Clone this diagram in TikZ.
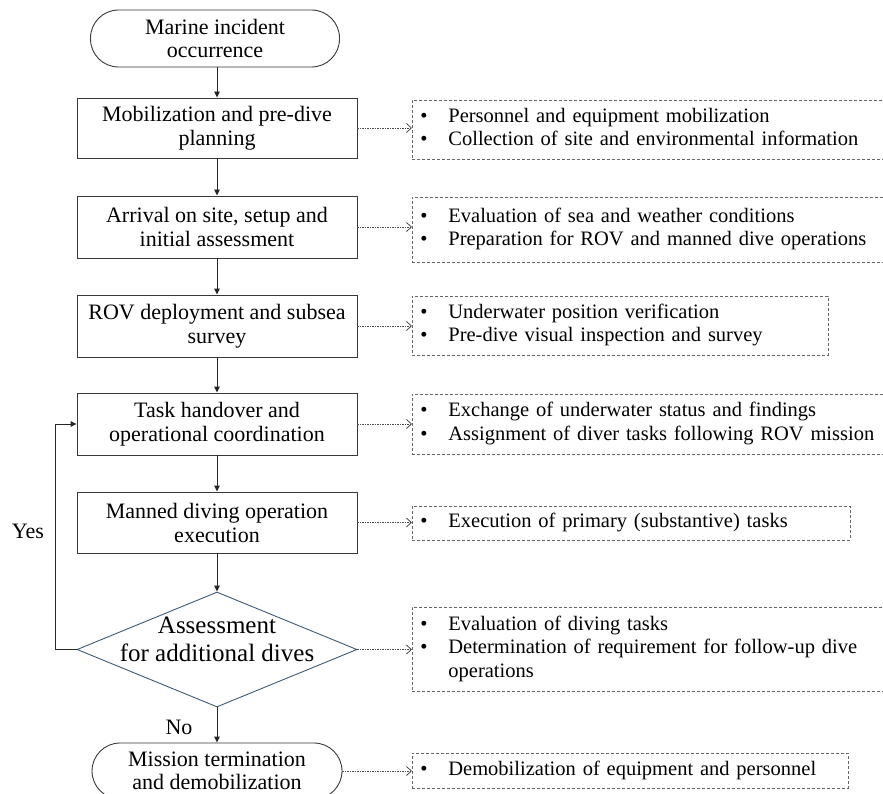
\documentclass[tikz,border=0pt]{standalone}
\usepackage{fontspec}
\setmainfont{Liberation Serif}
\usetikzlibrary{shapes.geometric,arrows.meta}
\newcommand{\bitem}[1]{\makebox[28pt][l]{\textbullet}#1}
\newcommand{\notelines}[1]{\begin{tabular}{@{}l@{}}#1\end{tabular}}
\definecolor{diacol}{HTML}{3E5B78}
\begin{document}
\begin{tikzpicture}[x=1pt,y=-1pt,
  procbox/.style={draw=black!78, line width=0.9pt, minimum width=280pt, minimum height=61pt, align=center, inner sep=2pt, font=\fontsize{22}{24}\selectfont},
  termbox/.style={draw=black!78, line width=0.9pt, rounded corners=28pt, minimum width=249pt, minimum height=57pt, align=center, inner sep=2pt, font=\fontsize{22}{23.5}\selectfont},
  notebox/.style={draw=black!60, dash pattern=on 3pt off 2pt, line width=0.8pt, anchor=west, inner xsep=8pt, inner ysep=0pt, font=\fontsize{20.5}{23.5}\selectfont},
  flow/.style={draw=black!85, line width=0.9pt, -{Triangle[length=6pt,width=5.5pt]}},
  dflow/.style={draw=black!70, line width=0.8pt, dash pattern=on 1.5pt off 1pt, -{Straight Barb[length=5pt,width=9pt]}},
  lbl/.style={font=\fontsize{22}{24}\selectfont, inner sep=0pt}
]
\useasboundingbox[fill=white] (0,0) rectangle (883,794);

% main column
\node[termbox] (t0) at (215,38.5) {Marine incident\\occurrence};
\node[procbox, minimum height=60pt] (b1) at (217,128) {Mobilization and pre-dive\\planning};
\node[procbox, minimum height=62pt] (b2) at (217,227) {Arrival on site, setup and\\initial assessment};
\node[procbox, minimum height=62pt] (b3) at (217,326) {ROV deployment and subsea\\survey};
\node[procbox, minimum height=62pt] (b4) at (217,424) {Task handover and\\operational coordination};
\node[procbox, minimum height=61pt] (b5) at (217,522.5) {Manned diving operation\\execution};
\node[diamond, draw=diacol, line width=0.9pt, minimum width=280pt, minimum height=115pt, inner sep=0pt, aspect=2.43] (dia) at (217,649.5) {};
\node[font=\fontsize{25}{28}\selectfont, align=center, inner sep=0pt, yshift=10pt] (dialbl) at (dia.center) {Assessment\\for additional dives};
\node[termbox, minimum width=250pt, minimum height=56pt] (t1) at (217,771) {Mission termination\\and demobilization};

% notes
\node[notebox, text width=462pt, minimum height=59pt] (r1) at (412,129.5) {\notelines{\bitem{Personnel and equipment mobilization}\\\bitem{Collection of site and environmental information}}};
\node[notebox, text width=462pt, minimum height=65pt] (r2) at (412,229.5) {\notelines{\bitem{Evaluation of sea and weather conditions}\\\bitem{Preparation for ROV and manned dive operations}}};
\node[notebox, text width=400pt, minimum height=59pt] (r3) at (412,325.5) {\notelines{\bitem{Underwater position verification}\\\bitem{Pre-dive visual inspection and survey}}};
\node[notebox, text width=462pt, minimum height=60pt] (r4) at (412,424) {\notelines{\bitem{Exchange of underwater status and findings}\\\bitem{Assignment of diver tasks following ROV mission}}};
\node[notebox, text width=422pt, minimum height=34pt] (r5) at (412,523) {\notelines{\bitem{Execution of primary (substantive) tasks}}};
\node[notebox, text width=462pt, minimum height=84pt] (r6) at (412,649) {\notelines{\bitem{Evaluation of diving tasks}\\\bitem{Determination of requirement for follow-up dive}\\\hspace*{28pt}operations}};
\node[notebox, text width=420pt, minimum height=35pt] (r7) at (412,770.5) {\notelines{\bitem{Demobilization of equipment and personnel}}};

% main flow
\draw[flow] (t0.south -| b1.north) -- (b1.north);
\draw[flow] (b1) -- (b2);
\draw[flow] (b2) -- (b3);
\draw[flow] (b3) -- (b4);
\draw[flow] (b4) -- (b5);
\draw[flow] (b5.south) -- (dia.north);
\draw[flow] (dia.south) -- (t1.north);
\draw[flow] (dia.west) -- ++(-21,0) |- (b4.west);

% labels
\node[lbl] (yes) at (28,531) {Yes};
\node[lbl] (no) at (179,727) {No};

% dashed connectors
\draw[dflow] (b1.east) -- (b1.east -| r1.west);
\draw[dflow] (b2.east) -- (b2.east -| r2.west);
\draw[dflow] (b3.east) -- (b3.east -| r3.west);
\draw[dflow] (b4.east) -- (b4.east -| r4.west);
\draw[dflow] (b5.east) -- (b5.east -| r5.west);
\draw[dflow] (dia.east) -- (dia.east -| r6.west);
\draw[dflow] (t1.east) -- (t1.east -| r7.west);
\end{tikzpicture}
\end{document}
